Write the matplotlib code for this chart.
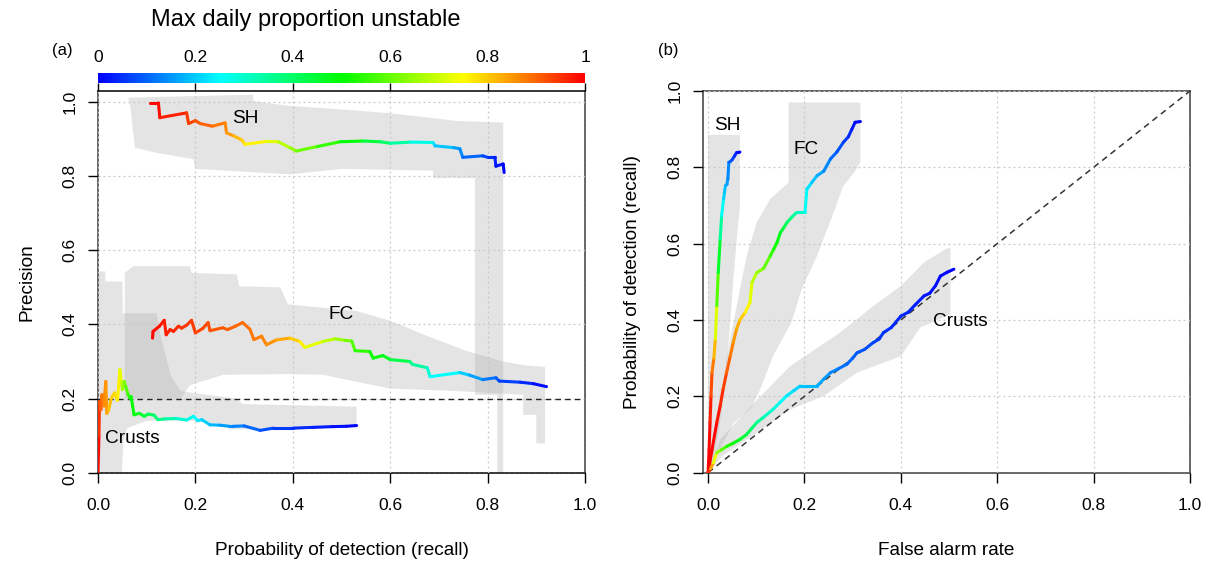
import matplotlib
matplotlib.use('Agg')
import matplotlib.pyplot as plt
from matplotlib.colors import LinearSegmentedColormap
from matplotlib.collections import LineCollection
from matplotlib.patches import Polygon
import numpy as np

plt.rcParams['font.family'] = ['Liberation Sans', 'DejaVu Sans']

W, H = 1214, 563
CMAP = LinearSegmentedColormap.from_list(
    'bcgyr', ['#0000FF', '#00FFFF', '#00FF00', '#FFFF00', '#FF0000'])
BAND_C = '#AEAEAE'
BAND_A = 0.33
TICK_FS = 12.5
LAB_FS = 13.7

# ---------------- panel (a): precision vs recall ----------------
sh_a_recall = [0.107, 0.124, 0.127, 0.182, 0.186, 0.200, 0.210, 0.235, 0.261, 0.264, 0.280,
               0.295, 0.302, 0.346, 0.370, 0.394, 0.407, 0.450, 0.497, 0.544, 0.580, 0.600,
               0.641, 0.688, 0.692, 0.731, 0.743, 0.749, 0.790, 0.800, 0.815, 0.817, 0.832, 0.834]
sh_a_prec = [0.998, 0.998, 0.958, 0.971, 0.942, 0.950, 0.942, 0.935, 0.944, 0.917, 0.908,
             0.898, 0.886, 0.894, 0.893, 0.877, 0.868, 0.880, 0.893, 0.895, 0.893, 0.889,
             0.892, 0.891, 0.882, 0.877, 0.874, 0.851, 0.855, 0.851, 0.851, 0.827, 0.833, 0.810]
sh_a_thr = [1.0, 0.99, 0.98, 0.95, 0.94, 0.92, 0.91, 0.89, 0.87, 0.86, 0.83,
            0.80, 0.78, 0.74, 0.70, 0.66, 0.63, 0.58, 0.52, 0.47, 0.42, 0.38,
            0.31, 0.24, 0.22, 0.17, 0.15, 0.13, 0.08, 0.06, 0.04, 0.03, 0.01, 0.0]

fc_a_recall = [0.112, 0.113, 0.126, 0.136, 0.140, 0.148, 0.155, 0.165, 0.172, 0.182, 0.192,
               0.200, 0.215, 0.226, 0.230, 0.256, 0.266, 0.282, 0.297, 0.312, 0.320, 0.336,
               0.346, 0.366, 0.394, 0.414, 0.425, 0.462, 0.487, 0.507, 0.521, 0.528, 0.558,
               0.565, 0.585, 0.600, 0.640, 0.646, 0.676, 0.682, 0.743, 0.763, 0.790, 0.817,
               0.824, 0.867, 0.894, 0.921]
fc_a_prec = [0.363, 0.381, 0.395, 0.411, 0.372, 0.386, 0.381, 0.395, 0.390, 0.398, 0.411,
             0.377, 0.389, 0.405, 0.383, 0.391, 0.386, 0.395, 0.405, 0.387, 0.359, 0.368,
             0.345, 0.358, 0.363, 0.354, 0.338, 0.354, 0.361, 0.357, 0.355, 0.329, 0.327,
             0.309, 0.316, 0.305, 0.300, 0.292, 0.283, 0.259, 0.270, 0.263, 0.251, 0.256,
             0.247, 0.244, 0.240, 0.232]
fc_a_thr = [1.0, 0.99, 0.98, 0.975, 0.97, 0.965, 0.96, 0.955, 0.95, 0.945, 0.94,
            0.935, 0.93, 0.925, 0.92, 0.91, 0.905, 0.90, 0.895, 0.885, 0.88, 0.87,
            0.865, 0.85, 0.82, 0.78, 0.75, 0.70, 0.67, 0.63, 0.60, 0.57, 0.52,
            0.50, 0.48, 0.46, 0.40, 0.38, 0.31, 0.28, 0.22, 0.18, 0.14, 0.10,
            0.08, 0.05, 0.03, 0.0]

cr_a_recall = [0.0, 0.002, 0.003, 0.006, 0.008, 0.012, 0.016, 0.018, 0.022, 0.027, 0.034,
               0.040, 0.045, 0.048, 0.050, 0.054, 0.057, 0.062, 0.066, 0.068, 0.074, 0.085,
               0.095, 0.103, 0.115, 0.123, 0.138, 0.160, 0.182, 0.196, 0.205, 0.213, 0.230,
               0.250, 0.270, 0.277, 0.300, 0.333, 0.360, 0.400, 0.440, 0.480, 0.510, 0.531]
cr_a_prec = [0.0, 0.100, 0.192, 0.170, 0.210, 0.180, 0.246, 0.160, 0.170, 0.200, 0.215,
             0.195, 0.278, 0.245, 0.224, 0.246, 0.232, 0.210, 0.200, 0.205, 0.156, 0.160,
             0.152, 0.158, 0.155, 0.143, 0.145, 0.146, 0.142, 0.152, 0.140, 0.143, 0.129,
             0.128, 0.125, 0.125, 0.126, 0.114, 0.120, 0.120, 0.122, 0.124, 0.125, 0.127]
cr_a_thr = [1.0, 0.97, 0.93, 0.91, 0.89, 0.87, 0.86, 0.84, 0.82, 0.80, 0.79,
            0.78, 0.75, 0.70, 0.67, 0.64, 0.60, 0.56, 0.53, 0.51, 0.49, 0.47,
            0.45, 0.43, 0.40, 0.38, 0.35, 0.32, 0.28, 0.26, 0.24, 0.22, 0.19,
            0.17, 0.15, 0.14, 0.12, 0.09, 0.07, 0.05, 0.04, 0.02, 0.01, 0.0]

# uncertainty bands, outline of each region (recall, precision)
sh_a_band_x = [0.062, 0.318, 0.320, 0.390, 0.450, 0.600, 0.737, 0.832, 0.832, 0.820, 0.820,
               0.774, 0.774, 0.688, 0.688, 0.503, 0.394, 0.200, 0.196, 0.120, 0.076, 0.066]
sh_a_band_y = [1.012, 1.020, 1.003, 0.990, 0.985, 0.970, 0.949, 0.945, 0.0, 0.0, 0.210,
               0.210, 0.795, 0.795, 0.815, 0.820, 0.805, 0.820, 0.846, 0.863, 0.877, 0.990]
fc_a_band_x = [0.055, 0.072, 0.189, 0.192, 0.285, 0.290, 0.374, 0.390, 0.462, 0.531, 0.600,
               0.668, 0.757, 0.832, 0.873, 0.918, 0.918, 0.900, 0.900, 0.873, 0.873, 0.737,
               0.600, 0.531, 0.462, 0.390, 0.257, 0.189, 0.170, 0.055]
fc_a_band_y = [0.539, 0.557, 0.557, 0.539, 0.535, 0.503, 0.500, 0.454, 0.445, 0.436, 0.410,
               0.373, 0.328, 0.300, 0.290, 0.285, 0.079, 0.079, 0.156, 0.156, 0.210, 0.220,
               0.227, 0.245, 0.264, 0.266, 0.264, 0.236, 0.200, 0.200]
cr_a_band_x = [0.0, 0.015, 0.015, 0.050, 0.051, 0.120, 0.130, 0.150, 0.170, 0.280, 0.298,
               0.531, 0.531, 0.400, 0.270, 0.260, 0.190, 0.100, 0.060, 0.052, 0.049, 0.0]
cr_a_band_y = [0.543, 0.543, 0.516, 0.516, 0.430, 0.430, 0.360, 0.260, 0.220, 0.200, 0.185,
               0.178, 0.124, 0.117, 0.117, 0.130, 0.140, 0.140, 0.120, 0.085, 0.0, 0.0]

# ---------------- panel (b): recall vs false alarm rate ----------------
sh_b_far = [0.0, 0.002, 0.004, 0.006, 0.008, 0.012, 0.015, 0.018, 0.021, 0.025, 0.028,
            0.032, 0.034, 0.036, 0.039, 0.041, 0.043, 0.046, 0.050, 0.055, 0.059, 0.062, 0.066]
sh_b_pod = [0.0, 0.060, 0.131, 0.200, 0.262, 0.300, 0.350, 0.437, 0.524, 0.612, 0.673,
            0.717, 0.735, 0.752, 0.755, 0.770, 0.813, 0.815, 0.820, 0.830, 0.839, 0.839, 0.840]
sh_b_thr = [1.0, 1.0, 0.99, 0.95, 0.90, 0.86, 0.78, 0.65, 0.52, 0.40, 0.30,
            0.22, 0.20, 0.19, 0.17, 0.15, 0.12, 0.10, 0.08, 0.05, 0.03, 0.01, 0.0]

fc_b_far = [0.0, 0.008, 0.018, 0.025, 0.031, 0.038, 0.046, 0.052, 0.059, 0.066, 0.077,
            0.087, 0.091, 0.101, 0.115, 0.129, 0.136, 0.143, 0.150, 0.157, 0.164, 0.174,
            0.184, 0.201, 0.205, 0.215, 0.226, 0.240, 0.254, 0.267, 0.281, 0.291, 0.298,
            0.305, 0.316]
fc_b_pod = [0.0, 0.060, 0.131, 0.175, 0.218, 0.260, 0.306, 0.340, 0.376, 0.400, 0.420,
            0.446, 0.498, 0.524, 0.535, 0.568, 0.585, 0.603, 0.629, 0.642, 0.656, 0.670,
            0.682, 0.682, 0.743, 0.760, 0.778, 0.790, 0.822, 0.840, 0.866, 0.880, 0.899,
            0.918, 0.920]
fc_b_thr = [1.0, 1.0, 0.99, 0.97, 0.95, 0.92, 0.89, 0.86, 0.84, 0.82, 0.78,
            0.74, 0.70, 0.66, 0.62, 0.56, 0.53, 0.50, 0.47, 0.44, 0.41, 0.37,
            0.33, 0.28, 0.24, 0.21, 0.18, 0.15, 0.12, 0.09, 0.07, 0.05, 0.03,
            0.01, 0.0]

cr_b_far = [0.0, 0.005, 0.011, 0.018, 0.028, 0.039, 0.052, 0.066, 0.080, 0.090, 0.101,
            0.115, 0.135, 0.150, 0.163, 0.178, 0.191, 0.205, 0.226, 0.240, 0.254, 0.270,
            0.288, 0.300, 0.309, 0.325, 0.343, 0.355, 0.364, 0.380, 0.400, 0.415, 0.430,
            0.448, 0.460, 0.472, 0.482, 0.496, 0.510]
cr_b_pod = [0.0, 0.010, 0.026, 0.052, 0.060, 0.069, 0.077, 0.087, 0.100, 0.115, 0.131,
            0.145, 0.166, 0.185, 0.201, 0.215, 0.227, 0.227, 0.227, 0.245, 0.262, 0.272,
            0.284, 0.300, 0.314, 0.323, 0.341, 0.350, 0.367, 0.380, 0.410, 0.420, 0.440,
            0.463, 0.470, 0.490, 0.515, 0.525, 0.533]
cr_b_thr = [1.0, 0.90, 0.78, 0.68, 0.60, 0.55, 0.50, 0.47, 0.44, 0.40, 0.37,
            0.33, 0.29, 0.26, 0.24, 0.22, 0.20, 0.19, 0.18, 0.16, 0.14, 0.12,
            0.11, 0.10, 0.09, 0.08, 0.07, 0.06, 0.05, 0.045, 0.04, 0.035, 0.03,
            0.025, 0.02, 0.015, 0.01, 0.005, 0.0]

sh_b_band_x = [0.0, 0.066, 0.066, 0.060, 0.052, 0.045, 0.038, 0.028, 0.018, 0.010, 0.0]
sh_b_band_y = [0.885, 0.885, 0.700, 0.620, 0.500, 0.380, 0.270, 0.160, 0.080, 0.020, 0.0]
fc_b_band_x = [0.167, 0.316, 0.316, 0.305, 0.280, 0.260, 0.226, 0.194, 0.173, 0.135, 0.108,
               0.090, 0.052, 0.031, 0.0, 0.004, 0.025, 0.039, 0.066, 0.080, 0.101, 0.129, 0.167]
fc_b_band_y = [0.970, 0.970, 0.813, 0.790, 0.750, 0.680, 0.568, 0.480, 0.394, 0.306, 0.218,
               0.170, 0.129, 0.076, 0.0, 0.045, 0.175, 0.306, 0.480, 0.568, 0.656, 0.717, 0.760]
cr_b_band_x = [0.0, 0.025, 0.101, 0.170, 0.274, 0.343, 0.400, 0.448, 0.496, 0.503, 0.503,
               0.440, 0.400, 0.309, 0.239, 0.170, 0.101, 0.031]
cr_b_band_y = [0.0, 0.087, 0.190, 0.279, 0.367, 0.437, 0.489, 0.551, 0.588, 0.588, 0.415,
               0.380, 0.305, 0.262, 0.200, 0.165, 0.104, 0.045]

ticks = [0.0, 0.2, 0.4, 0.6, 0.8, 1.0]
tick_labels = ['0.0', '0.2', '0.4', '0.6', '0.8', '1.0']
cbar_labels = ['0', '0.2', '0.4', '0.6', '0.8', '1']


def draw_curve(ax, x, y, thr):
    pts = np.column_stack([x, y])
    segs = np.stack([pts[:-1], pts[1:]], axis=1)
    thr = np.asarray(thr)
    lc = LineCollection(segs, colors=CMAP(0.5 * (thr[:-1] + thr[1:])),
                        linewidths=2.2, capstyle='round', joinstyle='round', zorder=4)
    ax.add_collection(lc)


def draw_band(ax, bx, by):
    ax.add_patch(Polygon(np.column_stack([bx, by]), closed=True,
                         facecolor=BAND_C, alpha=BAND_A, edgecolor='none', zorder=1))


def style_axes(ax):
    ax.set_xticks(ticks)
    ax.set_xticklabels(tick_labels)
    ax.set_yticks(ticks)
    ax.set_yticklabels(tick_labels, rotation=90, va='center')
    ax.tick_params(axis='both', length=7, width=1, direction='out', labelsize=TICK_FS)
    ax.tick_params(axis='x', pad=11)
    ax.tick_params(axis='y', pad=8)
    ax.grid(True, color='#C8C8C8', linestyle=(0, (1.5, 2.5)), linewidth=0.9, zorder=2)
    ax.set_axisbelow(False)
    for s in ax.spines.values():
        s.set_color('#3A3A3A')
        s.set_linewidth(1.1)
        s.set_linestyle((0, (2, 1)))


fig = plt.figure(figsize=(W / 100, H / 100), dpi=100)

# ---- panel (a)
axA = fig.add_axes([98 / W, 1 - 472.6 / H, 487 / W, 381.6 / H])
draw_band(axA, sh_a_band_x, sh_a_band_y)
draw_band(axA, fc_a_band_x, fc_a_band_y)
draw_band(axA, cr_a_band_x, cr_a_band_y)
axA.axhline(0.2, color='#222222', linestyle=(0, (4, 3)), linewidth=1.0, zorder=3)
draw_curve(axA, sh_a_recall, sh_a_prec, sh_a_thr)
draw_curve(axA, fc_a_recall, fc_a_prec, fc_a_thr)
draw_curve(axA, cr_a_recall, cr_a_prec, cr_a_thr)
axA.set_xlim(0, 1)
axA.set_ylim(0, 1.03)
style_axes(axA)
axA.spines['top'].set_linestyle('-')
axA.spines['top'].set_color('black')
axA.spines['bottom'].set_linestyle('-')
axA.spines['bottom'].set_color('black')
axA.set_xlabel('Probability of detection (recall)', fontsize=LAB_FS, labelpad=21)
axA.set_ylabel('Precision', fontsize=LAB_FS, labelpad=19)
axA.text(0.302, 0.957, 'SH', fontsize=LAB_FS, ha='center', va='center', zorder=5)
axA.text(0.50, 0.427, 'FC', fontsize=LAB_FS, ha='center', va='center', zorder=5)
axA.text(0.015, 0.092, 'Crusts', fontsize=LAB_FS, ha='left', va='center', zorder=5)

# ---- colour bar above panel (a)
cax = fig.add_axes([98 / W, 1 - 83 / H, 487 / W, 10 / H])
cax.imshow(np.linspace(0, 1, 256)[None, :], cmap=CMAP, aspect='auto',
           extent=[0, 1, 0, 1], interpolation='bilinear')
cax.set_xlim(0, 1)
cax.set_ylim(0, 1)
cax.set_yticks([])
cax.set_xticks(ticks)
cax.set_xticklabels(cbar_labels)
cax.tick_params(axis='x', bottom=True, top=False, labelbottom=False, labeltop=True,
                direction='out', length=5.8, width=1, labelsize=TICK_FS, pad=0)
for s in cax.spines.values():
    s.set_visible(False)
fig.text(306 / W, 1 - 20 / H, 'Max daily proportion unstable', fontsize=17,
         ha='center', va='center')

# ---- panel (b)
axB = fig.add_axes([703.3 / W, 1 - 472.6 / H, 486.7 / W, 381.6 / H])
draw_band(axB, sh_b_band_x, sh_b_band_y)
draw_band(axB, fc_b_band_x, fc_b_band_y)
draw_band(axB, cr_b_band_x, cr_b_band_y)
axB.plot([0, 1], [0, 1], color='#333333', linestyle=(0, (4, 3)), linewidth=1.1, zorder=3)
draw_curve(axB, sh_b_far, sh_b_pod, sh_b_thr)
draw_curve(axB, fc_b_far, fc_b_pod, fc_b_thr)
draw_curve(axB, cr_b_far, cr_b_pod, cr_b_thr)
axB.set_xlim(-0.01, 1.0)
axB.set_ylim(0, 1.0)
style_axes(axB)
axB.set_xlabel('False alarm rate', fontsize=LAB_FS, labelpad=21)
axB.set_ylabel('Probability of detection (recall)', fontsize=LAB_FS, labelpad=19)
axB.text(0.04, 0.91, 'SH', fontsize=LAB_FS, ha='center', va='center', zorder=5)
axB.text(0.204, 0.848, 'FC', fontsize=LAB_FS, ha='center', va='center', zorder=5)
axB.text(0.524, 0.396, 'Crusts', fontsize=LAB_FS, ha='center', va='center', zorder=5)

fig.text(62 / W, 1 - 50 / H, '(a)', fontsize=12, ha='center', va='center')
fig.text(668 / W, 1 - 50 / H, '(b)', fontsize=12, ha='center', va='center')

fig.savefig('out.png', dpi=100, facecolor='white')
